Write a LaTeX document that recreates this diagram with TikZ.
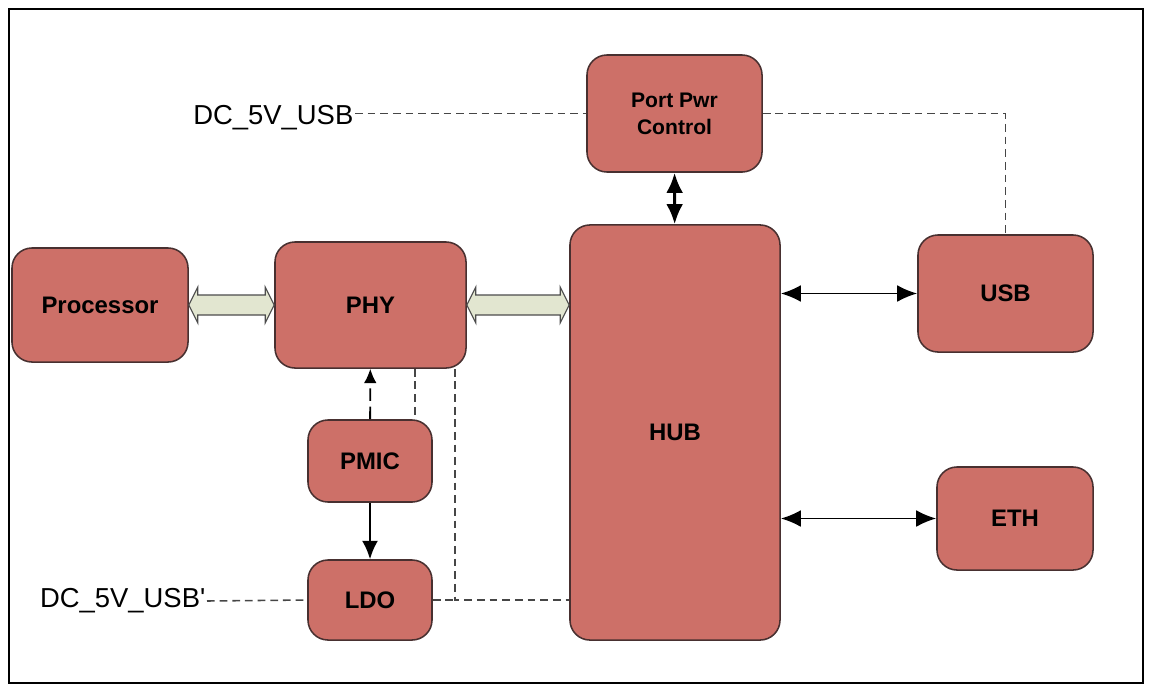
\documentclass[tikz,border=0pt]{standalone}
\usepackage{fontspec}
\setmainfont{Liberation Sans}
\usetikzlibrary{arrows.meta,calc}
\definecolor{boxred}{RGB}{205,112,104}
\definecolor{boxline}{RGB}{72,48,48}
\definecolor{busfill}{RGB}{226,230,208}
\definecolor{wire}{RGB}{70,70,70}
\tikzset{
  blk/.style={draw=boxline, fill=boxred, line width=1.1pt, rounded corners=0.5cm,
    font=\bfseries\fontsize{17}{20}\selectfont, align=center, inner sep=0pt},
  lbl/.style={font=\fontsize{19.5}{22}\selectfont, inner sep=1pt},
  pwr/.style={draw=wire, line width=1.1pt, dash pattern=on 5.5pt off 3.5pt},
  sig/.style={<->, >={Latex[length=5mm,width=4.2mm]}, line width=1.4pt},
}
% wide bus arrow between two points on one row
\newcommand{\fatbus}[2]{%
  \draw[draw=black!70, fill=busfill, line width=0.8pt]
    (#1) -- ++(9,-18) -- ++(0,8) -- ($(#2)+(-9,-10)$) -- ++(0,-8) -- (#2)
    -- ++(-9,18) -- ++(0,-8) -- ($(#1)+(9,10)$) -- ++(0,8) -- cycle;}
\begin{document}
\begin{tikzpicture}[x=0.025cm, y=-0.025cm]
    \useasboundingbox (0,0) rectangle (1150,686);
    \draw[line width=1.5pt] (9,9) rectangle (1143,683);

    \node[blk, minimum width=4.4cm, minimum height=2.85cm] (proc) at (100,305) {Processor};
    \node[blk, minimum width=4.775cm, minimum height=3.15cm] (phy) at (370.5,305) {PHY};
    \node[blk, minimum width=4.375cm, minimum height=2.925cm,
          font=\bfseries\fontsize{15}{19}\selectfont] (ppc) at (674.5,113.5) {Port Pwr\\Control};
    \node[blk, minimum width=5.25cm, minimum height=10.375cm] (hub) at (675,432.5) {HUB};
    \node[blk, minimum width=4.375cm, minimum height=2.925cm] (usb) at (1005.5,293.5) {USB};
    \node[blk, minimum width=3.9cm, minimum height=2.575cm] (eth) at (1015,518.5) {ETH};
    \node[blk, minimum width=3.1cm, minimum height=2.05cm] (pmic) at (370,461) {PMIC};
    \node[blk, minimum width=3.1cm, minimum height=2cm] (ldo) at (370,600) {LDO};

    \node[lbl, anchor=east] (dc1) at (355,118) {DC\_5V\_USB};
    \node[lbl, anchor=east] (dc2) at (207,601) {DC\_5V\_USB\textquotesingle};

    % buses
    \coordinate (hubin) at (phy.east -| hub.west);
    \fatbus{proc.east}{phy.west}
    \fatbus{phy.east}{hubin}

    % signals
    \path[sig]
        (hub.east |- usb) edge (usb)
        (hub.east |- eth) edge (eth);
    \path[sig, line width=2.2pt] (ppc) edge (hub);
    \path[->, >={Latex[length=3.6mm,width=3.2mm]}, line width=1.3pt, dash pattern=on 9pt off 4pt]
        (pmic) edge (phy);
    \path[->, >={Latex[length=4.6mm,width=4mm]}, line width=1.5pt]
        (pmic) edge (ldo);

    % power rails
    \coordinate (tap) at (415,0);
    \coordinate (jn) at (455,600);
    \draw[pwr] (dc1.east |- ppc.west) -- (ppc.west);
    \draw[pwr] (ppc.east) -- (ppc.east -| usb.north) -- (usb.north);
    \draw[pwr] (tap |- phy.south) -- (tap |- pmic.north);
    \draw[pwr] (jn |- phy.south) -- (jn) -- (jn -| hub.west);
    \draw[pwr] (ldo.east) -- (jn);
    \draw[pwr] (dc2.east) -- (ldo.west);
\end{tikzpicture}
\end{document}
